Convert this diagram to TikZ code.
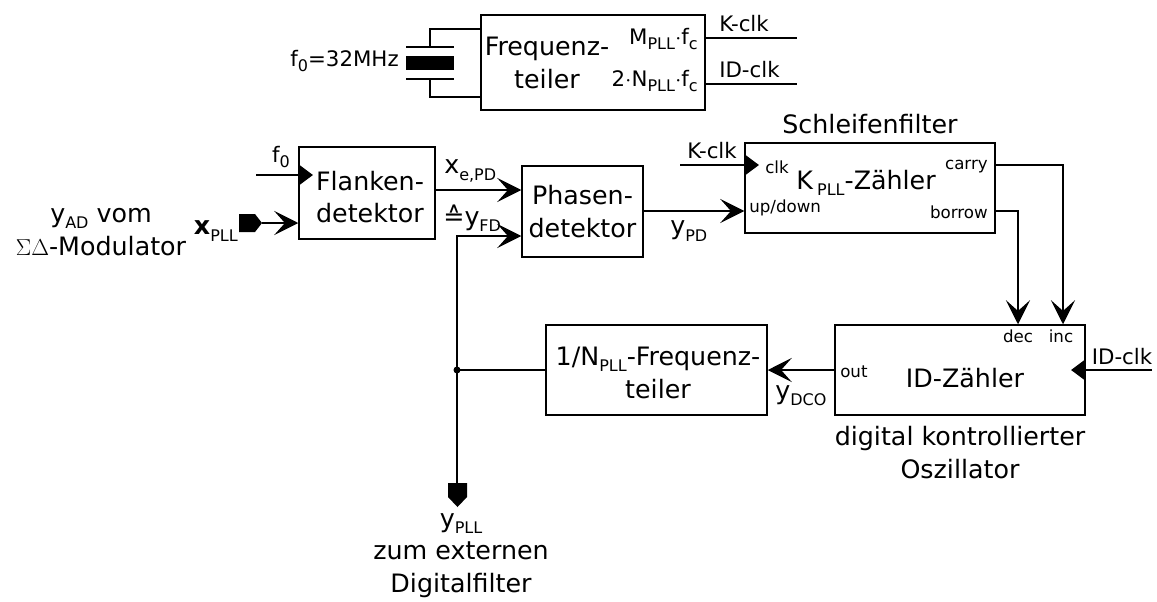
\documentclass[tikz,border=0pt]{standalone}
\usepackage{fontspec}
\setmainfont{DejaVu Sans}
\usetikzlibrary{arrows.meta,calc,positioning}
\newcommand{\lowtxt}[1]{\raisebox{-0.45ex}{\fontsize{12}{13}\selectfont #1}}
\tikzset{sig/.style={line width=2.2pt,-{Stealth[length=18pt,width=18pt,inset=8pt]}},
  clkin/.style={line width=2.2pt,-{Triangle[length=10.5pt,width=15pt]}},
  wire/.style={line width=2.2pt},
  blk/.style={draw, line width=1.1pt, align=center},
  big/.style={font=\fontsize{19}{24.5}\selectfont, align=center, inner sep=0pt},
  mid/.style={font=\fontsize{16}{20}\selectfont, align=center, inner sep=0pt},
  tiny/.style={font=\fontsize{12.5}{14}\selectfont, inner sep=0pt}}

\begin{document}
\begin{tikzpicture}[x=0.75pt,y=-0.75pt,font=\fontsize{19}{24.5}\selectfont]
  \useasboundingbox (0,0) rectangle (1157,601);
  % frequency divider and crystal
  \node[blk, minimum width=168pt, minimum height=71.25pt] (frq) at (593,62.5) {};
  \node[big] (frqtxt) at (547,63) {Frequenz-\\teiler};
  \node[mid, anchor=east] (mtxt) at (698,39) {M\lowtxt{PLL}$\cdot$f\lowtxt{c}};
  \node[mid, anchor=east] (ntxt) at (698,81) {2$\cdot$N\lowtxt{PLL}$\cdot$f\lowtxt{c}};
  \node[mid, anchor=east] (f0txt) at (399,61) {f\lowtxt{0}=32MHz};
  \coordinate (xtop) at (406,47);
  \coordinate (xbot) at (406,79);
  \draw[wire] (xtop) -- ++(48,0);
  \draw[wire] (xbot) -- ++(48,0);
  \fill (406,56) rectangle (454,70);
  \draw[wire] (430,47) |- (frq.west |- 0,29);
  \draw[wire] (430,79) |- (frq.west |- 0,97);
  \coordinate (kend) at (797,38);
  \coordinate (idend) at (797,84);
  \draw[wire] (frq.east |- kend) -- (kend);
  \draw[wire] (frq.east |- idend) -- (idend);
  \node[mid, anchor=base west] (kout) at (719,31) {K-clk};
  \node[mid, anchor=base west] (idout) at (719,77) {ID-clk};
  % input stage
  \node[blk, minimum width=102pt, minimum height=69pt] (flk) at (367,193) {};
  \node[big] (flktxt) at (370,197) {Flanken-\\detektor};
  \node[blk, minimum width=90.75pt, minimum height=68.25pt] (pha) at (582.5,211.5) {Phasen-\\detektor};
  \node[big] (modtxt) at (101,232) {y\lowtxt{AD} vom\\$\Sigma\Delta$-Modulator};
  \node[big, anchor=east] (xpll) at (238,231) {\textbf{x}\lowtxt{PLL}};
  \coordinate (xpin) at (262,223);
  \fill (239,214) -- (255,214) -- (xpin) -- (255,232) -- (239,232) -- cycle;
  \draw[sig] (xpin) -- (flk.west |- xpin);
  \coordinate (f0in) at (313,175);
  \draw[clkin] (256,175) -- (f0in);
  \node[mid] (f0lab) at (281,157) {f\lowtxt{0}};
  \coordinate (xeout) at (flk.east |- 0,190);
  \draw[sig] (xeout) -- (pha.west |- xeout);
  \node[big, anchor=west] (xelab) at (444,171) {x\lowtxt{e,PD}};
  \node[big, anchor=west] (yfdlab) at (443,218) {≙y\lowtxt{FD}};
  % loop filter
  \node[blk, minimum width=187.5pt, minimum height=67.5pt] (kzl) at (870,188) {};
  \node[big] (kzltxt) at (866,183) {K\,\lowtxt{PLL}-Zähler};
  \node[big, above=6pt of kzl.north] (filt) {Schleifenfilter};
  \node[tiny, anchor=west] (clklab) at (765,167) {clk};
  \node[tiny, anchor=west] (udlab) at (749,208) {up/down};
  \node[tiny, anchor=east] (carlab) at (988,167) {carry};
  \node[tiny, anchor=east] (borlab) at (988,212) {borrow};
  \coordinate (kin) at (759,165);
  \draw[clkin] (680,165) -- (kin);
  \node[mid, anchor=base] (kinlab) at (712,158) {K-clk};
  \coordinate (ypd) at (pha.east |- 0,211);
  \draw[sig] (ypd) -- (kzl.west |- ypd);
  \node[big, anchor=west] (ypdlab) at (670,231) {y\lowtxt{PD}};
  % oscillator and divider
  \node[blk, minimum width=187.5pt, minimum height=67.5pt] (idz) at (960,370) {};
  \node[big] (idztxt) at (965,378) {ID-Zähler};
  \node[tiny] (declab) at (1018,336) {dec};
  \node[tiny] (inclab) at (1061,336) {inc};
  \node[tiny, anchor=west] (outlab) at (840,372) {out};
  \node[big, below=8pt of idz.south] (osc) {digital kontrollierter\\Oszillator};
  \node[blk, minimum width=165.75pt, minimum height=67.5pt] (div) at (656.5,370) {};
  \node[big] (divtxt) at (658,373) {1/N\lowtxt{PLL}-Frequenz-\\teiler};
  \draw[sig] (kzl.east |- 0,165) -| (idz.north -| 1063,0);
  \draw[sig] (kzl.east |- 0,211) -| (idz.north -| 1018,0);
  \coordinate (idin) at (1071,370);
  \draw[clkin] (1152,370) -- (idin);
  \node[mid, anchor=base] (idinlab) at (1122,364) {ID-clk};
  \draw[sig] (idz.west) -- (div.east);
  \node[big, anchor=west] (ydco) at (775,396) {y\lowtxt{DCO}};
  % feedback and output
  \coordinate (fbk) at (457,370);
  \coordinate (ypin) at (457,483);
  \draw[wire] (div.west) -- (fbk);
  \fill (fbk) circle (3.5);
  \draw[wire] (ypin) -- (fbk);
  \draw[sig] (fbk) |- (pha.west |- 0,236);
  \fill (448,483) -- (467,483) -- (467,497) -- (457.5,507) -- (448,497) -- cycle;
  \node[big, anchor=north] (yout) at (461,513) {y\lowtxt{PLL}\\zum externen\\Digitalfilter};
\end{tikzpicture}
\end{document}
